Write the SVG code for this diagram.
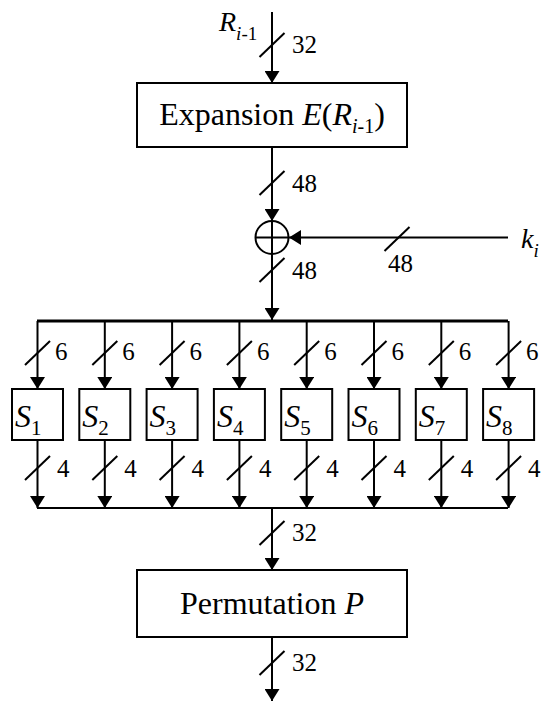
<svg xmlns="http://www.w3.org/2000/svg" xmlns:xlink="http://www.w3.org/1999/xlink" width="545" height="704" viewBox="0 0 545 704" font-family="'Liberation Serif', 'Times New Roman', Times, 'DejaVu Serif', serif">
<style>
  .ln{stroke:#000;stroke-width:2;fill:none}
  .bus{stroke:#000;stroke-width:3;fill:none}
  .bx{stroke:#000;stroke-width:2;fill:#fff}
  text{font-family:'Liberation Serif', 'Times New Roman', Times, 'DejaVu Serif', serif;fill:#000}
  .lab{font-size:25px}
  .it{font-style:italic}
</style>
<defs>
  <marker id="ah" viewBox="0 0 12 15" refX="12" refY="7.5" markerWidth="12" markerHeight="15" markerUnits="userSpaceOnUse" orient="auto">
    <path d="M0,0 L12,7.5 L0,15 Z" fill="#000"/>
  </marker>
  <line id="sl" x1="-12.5" y1="12" x2="12.5" y2="-12" stroke="#000" stroke-width="2"/>
</defs>
<rect width="545" height="704" fill="#fff"/>

<g id="connectors">
  <line class="ln" x1="272" y1="12" x2="272" y2="83" marker-end="url(#ah)"/>
  <use xlink:href="#sl" x="272" y="45"/>
  <line class="ln" x1="272" y1="147" x2="272" y2="221" marker-end="url(#ah)"/>
  <use xlink:href="#sl" x="272" y="183"/>
  <line class="ln" x1="508" y1="237.5" x2="289" y2="237.5" marker-end="url(#ah)"/>
  <use xlink:href="#sl" x="397" y="239"/>
  <line class="ln" x1="272" y1="254" x2="272" y2="320" marker-end="url(#ah)"/>
  <use xlink:href="#sl" x="272" y="270"/>
  <line class="bus" x1="37" y1="321" x2="508" y2="321"/>
  <line class="ln" x1="37" y1="508" x2="508" y2="508"/>
  <line class="ln" x1="272" y1="508" x2="272" y2="570" marker-end="url(#ah)"/>
  <use xlink:href="#sl" x="272" y="533"/>
  <line class="ln" x1="272" y1="637" x2="272" y2="701" marker-end="url(#ah)"/>
  <use xlink:href="#sl" x="272" y="663"/>
  <g id="branches">
    <line class="ln" x1="37.5" y1="321" x2="37.5" y2="389" marker-end="url(#ah)"/>
    <line class="ln" x1="104.8" y1="321" x2="104.8" y2="389" marker-end="url(#ah)"/>
    <line class="ln" x1="172.1" y1="321" x2="172.1" y2="389" marker-end="url(#ah)"/>
    <line class="ln" x1="239.4" y1="321" x2="239.4" y2="389" marker-end="url(#ah)"/>
    <line class="ln" x1="306.7" y1="321" x2="306.7" y2="389" marker-end="url(#ah)"/>
    <line class="ln" x1="374" y1="321" x2="374" y2="389" marker-end="url(#ah)"/>
    <line class="ln" x1="441.3" y1="321" x2="441.3" y2="389" marker-end="url(#ah)"/>
    <line class="ln" x1="508.6" y1="321" x2="508.6" y2="389" marker-end="url(#ah)"/>
    <use xlink:href="#sl" x="37.5" y="353"/>
    <use xlink:href="#sl" x="104.8" y="353"/>
    <use xlink:href="#sl" x="172.1" y="353"/>
    <use xlink:href="#sl" x="239.4" y="353"/>
    <use xlink:href="#sl" x="306.7" y="353"/>
    <use xlink:href="#sl" x="374" y="353"/>
    <use xlink:href="#sl" x="441.3" y="353"/>
    <use xlink:href="#sl" x="508.6" y="353"/>
    <line class="ln" x1="37.5" y1="440" x2="37.5" y2="508" marker-end="url(#ah)"/>
    <line class="ln" x1="104.8" y1="440" x2="104.8" y2="508" marker-end="url(#ah)"/>
    <line class="ln" x1="172.1" y1="440" x2="172.1" y2="508" marker-end="url(#ah)"/>
    <line class="ln" x1="239.4" y1="440" x2="239.4" y2="508" marker-end="url(#ah)"/>
    <line class="ln" x1="306.7" y1="440" x2="306.7" y2="508" marker-end="url(#ah)"/>
    <line class="ln" x1="374" y1="440" x2="374" y2="508" marker-end="url(#ah)"/>
    <line class="ln" x1="441.3" y1="440" x2="441.3" y2="508" marker-end="url(#ah)"/>
    <line class="ln" x1="508.6" y1="440" x2="508.6" y2="508" marker-end="url(#ah)"/>
    <use xlink:href="#sl" x="37.5" y="468"/>
    <use xlink:href="#sl" x="104.8" y="468"/>
    <use xlink:href="#sl" x="172.1" y="468"/>
    <use xlink:href="#sl" x="239.4" y="468"/>
    <use xlink:href="#sl" x="306.7" y="468"/>
    <use xlink:href="#sl" x="374" y="468"/>
    <use xlink:href="#sl" x="441.3" y="468"/>
    <use xlink:href="#sl" x="508.6" y="468"/>
  </g>
  <g id="labels" class="lab">
    <text x="292" y="53">32</text>
    <text x="292" y="192">48</text>
    <text x="388" y="272">48</text>
    <text x="292" y="279">48</text>
    <text x="292" y="541">32</text>
    <text x="292" y="671">32</text>
    <text x="55" y="360">6</text>
    <text x="122.3" y="360">6</text>
    <text x="189.6" y="360">6</text>
    <text x="256.9" y="360">6</text>
    <text x="324.2" y="360">6</text>
    <text x="391.5" y="360">6</text>
    <text x="458.8" y="360">6</text>
    <text x="526.1" y="360">6</text>
    <text x="57" y="477">4</text>
    <text x="124.3" y="477">4</text>
    <text x="191.6" y="477">4</text>
    <text x="258.9" y="477">4</text>
    <text x="326.2" y="477">4</text>
    <text x="393.5" y="477">4</text>
    <text x="460.8" y="477">4</text>
    <text x="528.1" y="477">4</text>
  </g>
</g>

<g id="input-R">
  <text x="219" y="31" font-size="28"><tspan class="it">R</tspan><tspan font-size="19" dy="9"><tspan class="it">i</tspan>-1</tspan></text>
</g>

<g id="expansion">
  <rect class="bx" x="137" y="83" width="270" height="64"/>
  <text x="272" y="125" font-size="32" text-anchor="middle">Expansion <tspan class="it">E</tspan>(<tspan class="it">R</tspan><tspan font-size="20" dy="8"><tspan class="it">i</tspan>-1</tspan><tspan dy="-8">)</tspan></text>
</g>

<g id="xor">
  <circle cx="272" cy="237.5" r="16.5" fill="none" stroke="#000" stroke-width="2"/>
  <line x1="255.5" y1="237.5" x2="288.5" y2="237.5" stroke="#000" stroke-width="2"/>
  <line x1="272" y1="221" x2="272" y2="254" stroke="#000" stroke-width="2"/>
</g>

<g id="key">
  <text x="521" y="248" font-size="28"><tspan class="it">k</tspan><tspan class="it" font-size="19" dy="9">i</tspan></text>
</g>

<g id="S1"><rect class="bx" x="12" y="389" width="51" height="51"/><text x="15" y="427" font-size="32"><tspan class="it">S</tspan><tspan font-size="21" dy="8">1</tspan></text></g>
<g id="S2"><rect class="bx" x="79.3" y="389" width="51" height="51"/><text x="82.3" y="427" font-size="32"><tspan class="it">S</tspan><tspan font-size="21" dy="8">2</tspan></text></g>
<g id="S3"><rect class="bx" x="146.6" y="389" width="51" height="51"/><text x="149.6" y="427" font-size="32"><tspan class="it">S</tspan><tspan font-size="21" dy="8">3</tspan></text></g>
<g id="S4"><rect class="bx" x="213.9" y="389" width="51" height="51"/><text x="216.9" y="427" font-size="32"><tspan class="it">S</tspan><tspan font-size="21" dy="8">4</tspan></text></g>
<g id="S5"><rect class="bx" x="281.2" y="389" width="51" height="51"/><text x="284.2" y="427" font-size="32"><tspan class="it">S</tspan><tspan font-size="21" dy="8">5</tspan></text></g>
<g id="S6"><rect class="bx" x="348.5" y="389" width="51" height="51"/><text x="351.5" y="427" font-size="32"><tspan class="it">S</tspan><tspan font-size="21" dy="8">6</tspan></text></g>
<g id="S7"><rect class="bx" x="415.8" y="389" width="51" height="51"/><text x="418.8" y="427" font-size="32"><tspan class="it">S</tspan><tspan font-size="21" dy="8">7</tspan></text></g>
<g id="S8"><rect class="bx" x="483.1" y="389" width="51" height="51"/><text x="486.1" y="427" font-size="32"><tspan class="it">S</tspan><tspan font-size="21" dy="8">8</tspan></text></g>

<g id="permutation">
  <rect class="bx" x="137" y="570" width="270" height="67"/>
  <text x="272" y="614" font-size="32" text-anchor="middle">Permutation <tspan class="it">P</tspan></text>
</g>
</svg>
